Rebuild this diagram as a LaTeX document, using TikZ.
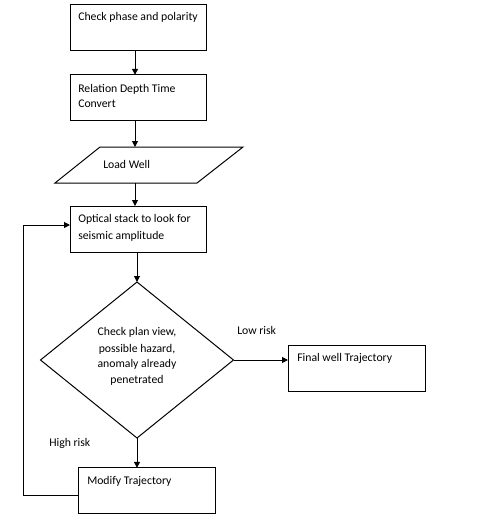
\documentclass[tikz,border=0pt]{standalone}
\usepackage{fontspec}
\setmainfont{Carlito}
\usetikzlibrary{shapes.geometric,arrows.meta,calc}
\begin{document}
\begin{tikzpicture}[x=0.75pt,y=-0.75pt,
  font=\fontsize{8.8pt}{12pt}\selectfont,
  box/.style={draw,line width=0.75pt,minimum width=102pt,minimum height=34pt,inner sep=0pt,outer sep=0pt},
  txt/.style={anchor=base west,inner sep=0pt},
  arr/.style={line width=0.75pt,-{Triangle[length=4.5pt,width=4.5pt]}},
  ln/.style={line width=0.75pt}]
\useasboundingbox (0,0) rectangle (483,529);
% boxes
\node[box] (b1) at (138,27.5) {};
\node[box] (b2) at (138,97.5) {};
\node[box,minimum height=34.5pt] (b3) at (138,229) {};
\node[box,minimum width=102.75pt,minimum height=34.5pt] (fin) at (356.5,368) {};
\node[box,minimum width=102.75pt] (mod) at (146.5,490.5) {};
% parallelogram
\node[inner sep=0pt,outer sep=0pt,minimum width=97.5pt,minimum height=27pt] (lw) at (148.75,165) {};
\draw[ln] (100,147) coordinate (p1) -- (243,147) coordinate (p2) -- (197,183) coordinate (p3) -- (55,183) coordinate (p4) -- cycle;
% diamond
\node[draw,ln,shape=diamond,minimum width=144.75pt,minimum height=117pt,inner sep=0pt,outer sep=0pt] (d) at (137,360) {};
% texts
\node[txt] (t1) at (78,20) {Check phase and polarity};
\node[txt] (t2a) at (78,92) {Relation Depth Time};
\node[txt] (t2b) at (78,107) {Convert};
\node[txt] (t3) at (103,168) {Load Well};
\node[txt] (t4a) at (78,222) {Optical stack to look for};
\node[txt] (t4b) at (78,239) {seismic amplitude};
\node[anchor=base,inner sep=0pt] (dt1) at (137,335) {Check plan view,};
\node[anchor=base,inner sep=0pt] (dt2) at (137,352) {possible hazard,};
\node[anchor=base,inner sep=0pt] (dt3) at (137,367) {anomaly already};
\node[anchor=base,inner sep=0pt] (dt4) at (137,383) {penetrated};
\node[txt] (t5) at (297,361) {Final well Trajectory};
\node[txt] (t6) at (87,484) {Modify Trajectory};
\node[txt] (lr) at (237,334) {Low risk};
\node[txt] (hr) at (49,446) {High risk};
% connectors
\coordinate (a1) at ($(b1.south)+(-3,0)$);
\coordinate (a2) at ($(b2.south)+(-3,0)$);
\coordinate (a3) at ($(b3.south)+(-1,0)$);
\draw[arr] (a1) -- (a1 |- b2.north);
\draw[arr] (a2) -- (a2 |- lw.north);
\draw[arr] (a2 |- lw.south) -- (a2 |- b3.north);
\draw[arr] (a3) -- (d.north);
\draw[arr] (d.east) -- (d.east -| fin.west);
\draw[arr] (d.south) -- (d.south |- mod.north);
\coordinate (lp) at (23,225);
\coordinate (m1) at ($(mod.west)+(0,4.5)$);
\draw[arr] (m1) -| (lp) -- (lp -| b3.west);
\end{tikzpicture}
\end{document}
